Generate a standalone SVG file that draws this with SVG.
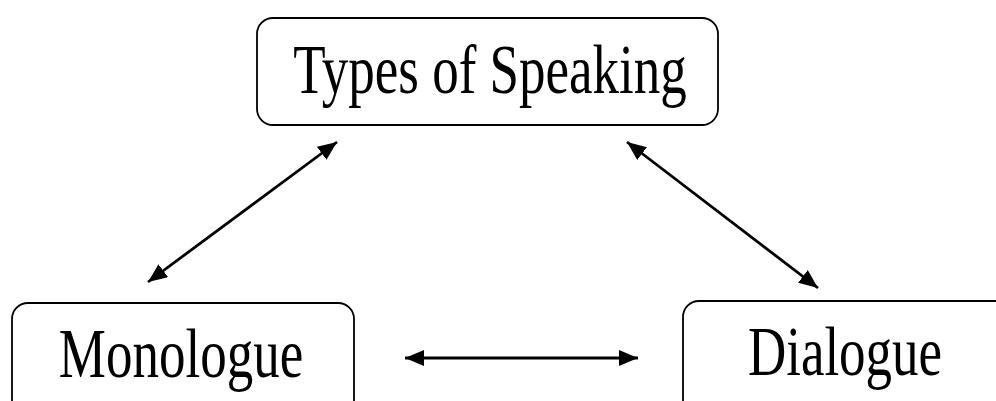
<svg xmlns="http://www.w3.org/2000/svg" width="996" height="401" viewBox="0 0 996 401">
<style>
.box{fill:#fff;stroke:#000;stroke-width:1.8}
.lbl{font-family:"Liberation Serif","Times New Roman",serif;font-size:53px;fill:#000;text-anchor:middle}
.conn{stroke:#000;stroke-width:2.8;fill:none}
</style>
<defs>
<marker id="ah" viewBox="0 0 19 16" refX="19" refY="8" markerWidth="19" markerHeight="16" markerUnits="userSpaceOnUse" orient="auto-start-reverse">
<path d="M0,0 L19,8 L0,16 z" fill="#000"/>
</marker>
</defs>
<rect width="996" height="401" fill="#fff"/>
<g id="types">
<rect class="box" x="257" y="18" width="461" height="107" rx="16"/>
<text class="lbl" transform="translate(490,93) scale(1,1.3)">Types of Speaking</text>
</g>
<g id="monologue">
<rect class="box" x="12" y="303" width="342" height="130" rx="16"/>
<text class="lbl" transform="translate(181,377) scale(1,1.3)">Monologue</text>
</g>
<g id="dialogue">
<rect class="box" x="683" y="301" width="340" height="130" rx="16"/>
<text class="lbl" transform="translate(845,375) scale(1,1.3)">Dialogue</text>
</g>
<g id="connectors">
<line class="conn" x1="148" y1="282" x2="337" y2="142" marker-start="url(#ah)" marker-end="url(#ah)"/>
<line class="conn" x1="627" y1="142" x2="818" y2="288" marker-start="url(#ah)" marker-end="url(#ah)"/>
<line class="conn" x1="405" y1="358" x2="638" y2="358" marker-start="url(#ah)" marker-end="url(#ah)"/>
</g>
</svg>
